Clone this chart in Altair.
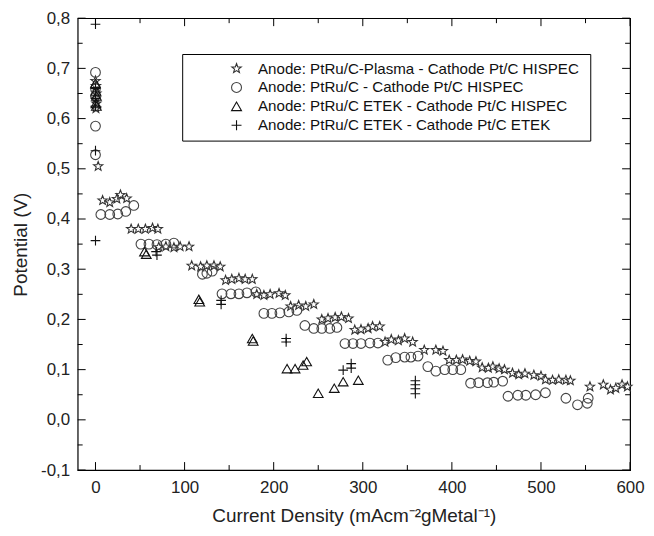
import math
import altair as alt
import pandas as pd

SERIES = [
    "Anode: PtRu/C-Plasma  - Cathode Pt/C HISPEC",
    "Anode: PtRu/C - Cathode Pt/C HISPEC",
    "Anode: PtRu/C ETEK - Cathode Pt/C HISPEC",
    "Anode: PtRu/C ETEK - Cathode Pt/C ETEK",
]

star_x = [0, 0.5, 1, 0.5, 1, 0.5, 3,
          8, 16, 24, 28, 35,
          40, 48, 56, 64, 70,
          71, 79, 88, 95, 105,
          108, 118, 125, 133, 140,
          146, 153, 161, 168, 176,
          181, 189, 196, 206, 213,
          219, 228, 236, 245,
          254, 261, 269, 276, 284,
          291, 298, 306, 311, 319,
          325, 332, 340, 347, 356,
          369, 382, 390,
          397, 405, 412, 420, 427,
          434, 441, 446, 453, 459,
          468, 475, 482, 492, 500,
          505, 513, 520, 528, 533,
          555, 570, 578, 584, 591, 597]
star_y = [0.675, 0.665, 0.65, 0.64, 0.63, 0.62, 0.505,
          0.437, 0.433, 0.44, 0.448, 0.441,
          0.38, 0.38, 0.38, 0.382, 0.38,
          0.344, 0.345, 0.343, 0.345, 0.345,
          0.307, 0.305, 0.307, 0.307, 0.305,
          0.278, 0.28, 0.282, 0.28, 0.28,
          0.25, 0.248, 0.25, 0.252, 0.248,
          0.226, 0.228, 0.226, 0.23,
          0.2, 0.202, 0.204, 0.205, 0.202,
          0.179, 0.18, 0.182, 0.186, 0.186,
          0.155, 0.16, 0.158, 0.162, 0.155,
          0.139, 0.139, 0.137,
          0.119, 0.119, 0.12, 0.117, 0.116,
          0.104, 0.103, 0.106, 0.102, 0.1,
          0.093, 0.09, 0.092, 0.089, 0.087,
          0.08, 0.079, 0.08, 0.079, 0.078,
          0.066, 0.07, 0.06, 0.063, 0.07, 0.066]

circ_x = [0, 0, 0, 0, 0,
          6, 16, 25, 34, 43,
          51, 60, 69, 79, 88,
          120, 125, 131,
          142, 152, 161, 170, 180,
          189, 198, 207, 217, 226,
          235, 245, 254, 263, 271,
          280, 289, 298, 308, 317,
          328, 337, 347, 354, 362,
          373, 382, 392, 401, 410,
          421, 430, 440, 447, 457,
          463, 474, 483, 494, 505,
          528, 541, 552, 553]
circ_y = [0.692, 0.66, 0.645, 0.585, 0.528,
          0.409, 0.409, 0.41, 0.415, 0.427,
          0.35, 0.35, 0.349, 0.35, 0.352,
          0.29, 0.292, 0.296,
          0.251, 0.251, 0.251, 0.253, 0.255,
          0.212, 0.212, 0.213, 0.215, 0.218,
          0.188, 0.182, 0.182, 0.182, 0.184,
          0.152, 0.152, 0.152, 0.153, 0.153,
          0.119, 0.124, 0.125, 0.125, 0.127,
          0.106, 0.097, 0.1, 0.1, 0.1,
          0.073, 0.074, 0.074, 0.075, 0.077,
          0.047, 0.049, 0.049, 0.05, 0.054,
          0.043, 0.03, 0.033, 0.043]

tri_x = [0, 0.5, 1, 0.5, 1,
         55, 57, 116, 117, 176, 177,
         215, 224, 233, 237, 250, 268, 278, 295]
tri_y = [0.67, 0.655, 0.645, 0.63, 0.625,
         0.335, 0.33, 0.24, 0.235, 0.162, 0.157,
         0.102, 0.102, 0.109, 0.116, 0.053, 0.063, 0.076, 0.079]

plus_x = [0, 0, 0, 0, 0, 0,
          68, 69, 141, 141, 214, 214,
          278, 287, 287, 359, 359, 359, 359]
plus_y = [0.788, 0.66, 0.64, 0.625, 0.536, 0.357,
          0.335, 0.328, 0.23, 0.238, 0.155, 0.162,
          0.099, 0.103, 0.112, 0.052, 0.062, 0.07, 0.078]

x_major = [0, 100, 200, 300, 400, 500, 600]
x_minor = [50, 150, 250, 350, 450, 550]
y_major = [-0.1, 0.0, 0.1, 0.2, 0.3, 0.4, 0.5, 0.6, 0.7, 0.8]
y_minor = [-0.05, 0.05, 0.15, 0.25, 0.35, 0.45, 0.55, 0.65, 0.75]

rows = []
for name, xs, ys in zip(SERIES, [star_x, circ_x, tri_x, plus_x],
                        [star_y, circ_y, tri_y, plus_y]):
    for a, b in zip(xs, ys):
        rows.append({"x": a, "y": b, "series": name})
df = pd.DataFrame(rows)

# marker shapes
pts = []
for k in range(10):
    r = 1.0 if k % 2 == 0 else 0.42
    ang = math.radians(-90 + 36 * k)
    pts.append(f"{r * math.cos(ang):.3f},{r * math.sin(ang):.3f}")
STAR = "M" + "L".join(pts) + "Z"
PLUS = "M-1,0L1,0M0,-1L0,1"

W, H = 555, 454
FONT = "Liberation Sans"

xscale = alt.Scale(domain=[-20, 600], nice=False, zero=False)
yscale = alt.Scale(domain=[-0.1, 0.8], nice=False, zero=False)

XAXIS = alt.Axis(values=x_major, ticks=False, domain=False, grid=False,
                 labelFontSize=17, labelFont=FONT, labelColor="#222",
                 labelPadding=10, labelFlush=False,
                 title="Current Density (mAcm⁻²gMetal⁻¹)",
                 titleFontSize=19, titleFont=FONT, titleFontWeight="normal",
                 titleColor="#222", titlePadding=11)
YAXIS = alt.Axis(values=y_major, ticks=False, domain=False, grid=False,
                 labelExpr="replace(replace(format(datum.value, '.1f'), '.', ','), '−', '-')",
                 labelFontSize=17, labelFont=FONT, labelColor="#222",
                 labelPadding=8, labelFlush=False,
                 title="Potential (V)", titleFontSize=19, titleFont=FONT,
                 titleFontWeight="normal", titleColor="#222", titlePadding=10)

LEG = dict(title=None, orient="none", legendX=105, legendY=36,
           strokeColor="black", fillColor="white", padding=7,
           symbolOffset=40, labelFontSize=15.2, labelFont=FONT,
           labelColor="#111", labelLimit=0, rowPadding=3,
           symbolSize=100, symbolStrokeWidth=1.1, labelOffset=14)

points = alt.Chart(df).mark_point(strokeWidth=1.1, opacity=1, size=95).encode(
    x=alt.X("x:Q", scale=xscale, axis=XAXIS),
    y=alt.Y("y:Q", scale=yscale, axis=YAXIS),
    shape=alt.Shape("series:N",
                    scale=alt.Scale(domain=SERIES, range=[STAR, "circle", "triangle-up", PLUS]),
                    legend=alt.Legend(**LEG)),
    stroke=alt.Stroke("series:N",
                      scale=alt.Scale(domain=SERIES, range=["#333", "#444", "#111", "#111"]),
                      legend=alt.Legend(**LEG)),
    fill=alt.Fill("series:N",
                  scale=alt.Scale(domain=SERIES, range=["white", "transparent", "transparent", "transparent"]),
                  legend=None),
)

def ticks_x(vals, length):
    d = pd.DataFrame({"v": vals})
    bottom = alt.Chart(d).mark_rule(color="black", strokeWidth=1).encode(
        x=alt.X("v:Q", scale=xscale, axis=XAXIS), y=alt.value(H), y2=alt.value(H - length))
    top = alt.Chart(d).mark_rule(color="black", strokeWidth=1).encode(
        x=alt.X("v:Q", scale=xscale, axis=XAXIS), y=alt.value(0), y2=alt.value(length))
    return [bottom, top]

def ticks_y(vals, length):
    d = pd.DataFrame({"v": vals})
    left = alt.Chart(d).mark_rule(color="black", strokeWidth=1).encode(
        y=alt.Y("v:Q", scale=yscale, axis=YAXIS), x=alt.value(0), x2=alt.value(length))
    right = alt.Chart(d).mark_rule(color="black", strokeWidth=1).encode(
        y=alt.Y("v:Q", scale=yscale, axis=YAXIS), x=alt.value(W), x2=alt.value(W - length))
    return [left, right]

layers = [points] + ticks_x(x_major, 8) + ticks_x(x_minor, 5) + ticks_y(y_major, 8) + ticks_y(y_minor, 5)

chart = alt.layer(*layers).properties(
    width=W, height=H,
    padding={"left": 70, "top": 9, "right": 16, "bottom": 57},
    autosize=alt.AutoSizeParams(type="none"),
    background="white",
).configure_view(stroke="black", strokeWidth=1.2)

chart.save("out.html", embed_options={"renderer": "svg", "actions": False})
